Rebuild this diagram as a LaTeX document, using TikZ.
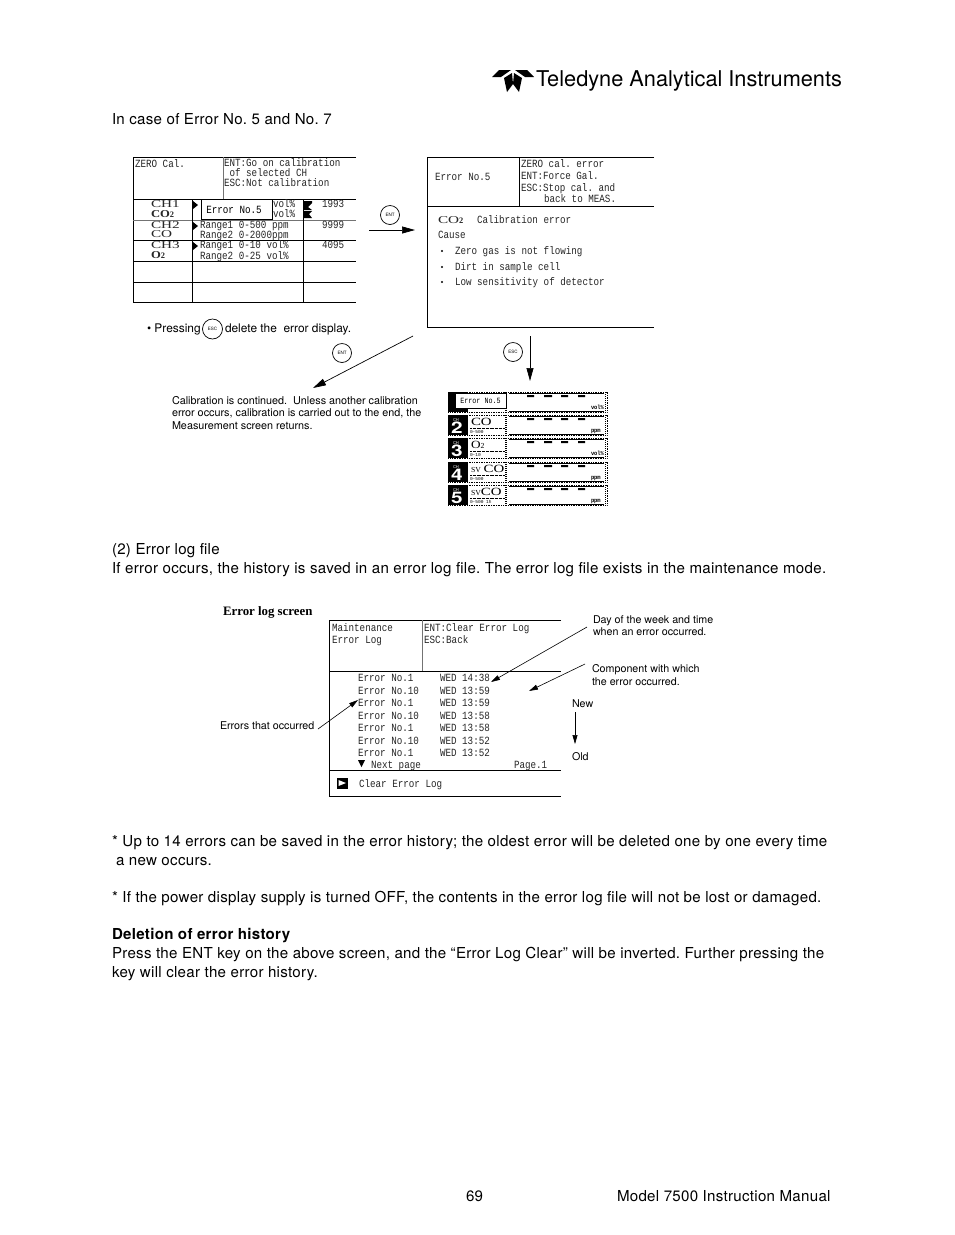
\documentclass[tikz,border=0pt]{standalone}
\usepackage{fontspec}
\usepackage{graphicx}
\setmainfont{TeX Gyre Heros}
\newfontfamily\bodyfont[LetterSpace=1.9]{TeX Gyre Heros}
\newfontfamily\scrfont{Liberation Mono}
\newfontfamily\wideserif{Liberation Serif}
\usetikzlibrary{arrows.meta}
\AtBeginDocument{\frenchspacing}
\newcounter{tn}
\newcommand{\Tx}[4][bodytxt]{\stepcounter{tn}\node[#1] (t\arabic{tn}) at (#2,#3) {#4};}
\newcommand{\Sc}[1]{\scalebox{.84}[1]{#1}}
\newcommand{\Wd}[1]{\scalebox{1.45}[1]{#1}}
\tikzset{
 base/.style={inner sep=0pt,outer sep=0pt,anchor=base west,text=black},
 bodytxt/.style={base,font=\bodyfont\fontsize{15.1}{16}\selectfont},
 headtxt/.style={base,font=\fontsize{21.75}{22}\selectfont},
 smalltxt/.style={base,font=\fontsize{10.8}{11}\selectfont},
 notetxt/.style={base,font=\fontsize{10.7}{11}\selectfont},
 presstxt/.style={base,font=\fontsize{11.9}{12}\selectfont},
 serifb/.style={base,font=\wideserif\bfseries\fontsize{12.85}{13}\selectfont},
 scr/.style={base,font=\scrfont\fontsize{11}{11}\selectfont,text=black!85},
 tiny/.style={base,font=\scrfont\bfseries\fontsize{6}{6}\selectfont,text=black},
 big/.style={base,font=\wideserif\fontsize{10.5}{11}\selectfont,text=black!85},
 frame/.style={draw=black,line width=.7pt},
 fineframe/.style={draw=black!55,line width=.7pt},
 keycap/.style={draw=black,circle,line width=.7pt,minimum size=19pt,inner sep=0pt,font=\fontsize{4.5}{5}\selectfont},
 conn/.style={draw=black,line width=.7pt,-{Triangle[length=13pt,width=7pt]}},
 thin conn/.style={draw=black,line width=.6pt,-{Triangle[length=9pt,width=5pt]}}
}
\begin{document}
\begin{tikzpicture}[x=1pt,y=-1pt]
\useasboundingbox (0,0) rectangle (954,1235);
\fill[white] (0,0) rectangle (954,1235);
% logo
\fill[black] (492,77) -- (499,70) -- (511,70) -- (501,77) -- cycle;
\fill[black] (534,77) -- (527,70) -- (515,70) -- (525,77) -- cycle;
\fill[black] (504,78) -- (512,73) -- (513,84) -- (507,92) -- cycle;
\fill[black] (522,78) -- (514,73) -- (513,84) -- (519,92) -- cycle;
\Tx[headtxt]{536}{86.5}{Teledyne Analytical Instruments}
\Tx{112}{124}{In case of Error No. 5 and No. 7}
% left screen
\draw[frame] (356,157) -- (133,157) -- (133,302) -- (356,302);
\draw[frame] (133,199) -- (356,199);
\draw[fineframe] (223,157) -- (223,199);
\draw[fineframe] (133,220) -- (356,220);
\draw[frame] (133,240) -- (356,240) (133,261) -- (356,261) (133,282) -- (356,282);
\draw[frame] (192,199) -- (192,302) (303,199) -- (303,302);
\Tx[scr]{135}{167}{\Sc{ZERO Cal.}}
\Tx[scr]{224}{166}{\Sc{ENT:Go on calibration}}
\Tx[scr]{224}{176}{\Sc{ of selected CH}}
\Tx[scr]{224}{186}{\Sc{ESC:Not calibration}}
\Tx[big]{151}{207}{\Wd{CH1}}
\Tx[big]{151}{217}{\scalebox{1.2}[1]{\textbf{CO}}\scalebox{.8}{\textbf{2}}}
\Tx[big]{151}{228}{\Wd{CH2}}
\Tx[big]{151}{237}{\Wd{CO}}
\Tx[big]{151}{248}{\Wd{CH3}}
\Tx[big]{151}{258}{\scalebox{1.2}[1]{\textbf{O}}\scalebox{.8}{\textbf{2}}}
\Tx[scr]{273}{207}{\Sc{vol\%}}
\Tx[scr]{273}{217}{\Sc{vol\%}}
\fill (193,201) -- (198,205) -- (193,209) -- cycle;
\fill (304,201) -- (312,201) -- (312,203) -- (308,207) -- (312,210) -- (304,210) -- cycle;
\fill (304,211) -- (312,211) -- (309,214) -- (312,218) -- (304,218) -- cycle;
\fill (193,222) -- (198,226) -- (193,230) -- cycle;
\fill (193,242) -- (198,246) -- (193,250) -- cycle;
\Tx[scr]{200}{228}{\Sc{Range1 0-500  ppm}}
\Tx[scr]{200}{238}{\Sc{Range2 0-2000ppm}}
\Tx[scr]{200}{248}{\Sc{Range1 0-10   vol\%}}
\Tx[scr]{200}{259}{\Sc{Range2 0-25   vol\%}}
\Tx[scr]{322}{207}{\Sc{1993}}
\Tx[scr]{322}{228}{\Sc{9999}}
\Tx[scr]{322}{248}{\Sc{4095}}
\node[draw=black,fill=white,line width=.7pt,minimum width=71pt,minimum height=20pt,inner sep=0pt,font=\scrfont\fontsize{11}{11}\selectfont] (errpop) at (236.5,209.5) {\hspace*{-5pt}\Sc{Error No.5}};
\Tx[presstxt]{147}{332}{• Pressing}
\node[keycap,minimum size=20pt] (escA) at (212.5,329) {ESC};
\Tx[presstxt]{225}{332}{delete the\ \ error display.}
% right screen
\draw[frame] (654,157) -- (427,157) -- (427,327) -- (654,327);
\draw[frame] (427,206.5) -- (654,206.5) (519,157) -- (519,206.5);
\Tx[scr]{435}{180}{\Sc{Error No.5}}
\Tx[scr]{521}{167}{\Sc{ZERO cal. error}}
\Tx[scr]{521}{179}{\Sc{ENT:Force Gal.}}
\Tx[scr]{521}{191}{\Sc{ESC:Stop cal. and}}
\Tx[scr]{544}{202}{\Sc{back to MEAS.}}
\Tx[big]{438}{223}{\Wd{CO}\scalebox{.8}{\textbf{2}}}
\Tx[scr]{477}{223}{\Sc{Calibration error}}
\Tx[scr]{438}{238}{\Sc{Cause}}
\foreach \yy/\ss in {254/Zero gas is not flowing,270/Dirt in sample cell,285/Low sensitivity of detector}{
 \fill (442,\yy-3) circle (1.2pt);
 \Tx[scr]{455}{\yy}{\Sc{\ss}}
}
% keys and arrows
\node[keycap] (entA) at (390,215) {ENT};
\coordinate (a1s) at (369,230); \coordinate (a1e) at (415,230);
\draw[conn] (a1s) -- (a1e);
\node[keycap] (entB) at (342,353) {ENT};
\coordinate (a2s) at (413,336); \coordinate (a2e) at (313,388);
\draw[conn] (a2s) -- (a2e);
\node[keycap] (escB) at (513,352) {ESC};
\coordinate (a3s) at (530,336); \coordinate (a3e) at (530,381);
\draw[conn] (a3s) -- (a3e);
\Tx[smalltxt]{172}{404}{Calibration is continued.\ \ Unless another calibration}
\Tx[smalltxt]{172}{416}{error occurs, calibration is carried out to the end, the}
\Tx[smalltxt]{172}{429}{Measurement screen returns.}
% measurement panel
\foreach \rt/\un in {392/vol\%,415/ppm,438/vol\%,462/ppm,485/ppm}{
 \draw[black,line width=.7pt,densely dotted] (448,\rt) rectangle (607,\rt+20);
 \fill[black] (448,\rt) rectangle (468,\rt+20);
 \draw[black,line width=1.3pt,dash pattern=on 1pt off 1pt] (506,\rt) -- (506,\rt+20) (605.5,\rt) -- (605.5,\rt+20);
 \draw[black,line width=.6pt] (509,\rt+1) -- (604,\rt+1) (509,\rt+19) -- (604,\rt+19);
 \fill (527,\rt+3) rectangle (534,\rt+5) (544,\rt+3) rectangle (552,\rt+5) (561,\rt+3) rectangle (568,\rt+5) (578,\rt+3) rectangle (585,\rt+5);
 \Tx[tiny]{591}{\rt+17}{\scalebox{.9}[1]{\un}}
}
\foreach \rt/\dg in {415/2,438/3,462/4,485/5}{
 \Tx[base,font=\bfseries\fontsize{16}{16}\selectfont,text=white]{451}{\rt+18}{\scalebox{1.3}[1]{\dg}}
 \Tx[base,font=\fontsize{4}{4}\selectfont,text=white]{453}{\rt+6}{CH}
}
\node[draw=black,fill=white,line width=1pt,minimum width=51pt,minimum height=15pt,inner sep=0pt,font=\scrfont\fontsize{8}{8}\selectfont] (errpan) at (480.5,401) {\Sc{Error No.5}};
\foreach \rt/\lb/\rg in {415/\scalebox{1.35}[1]{CO}/0-500,438/\scalebox{1.2}[1]{O}\scalebox{.7}{2}/0-10,462/{\scalebox{.7}{SV} \scalebox{1.35}[1]{CO}}/0-500,485/{\scalebox{.7}{SV}\scalebox{1.35}[1]{CO}}/0-500 1h}{
 \Tx[base,font=\wideserif\fontsize{11}{11}\selectfont]{471}{\rt+10}{\lb}
 \draw[black,line width=.3pt,densely dotted] (470,\rt+13) -- (504,\rt+13);
 \Tx[tiny,font=\scrfont\fontsize{4.5}{5}\selectfont]{470}{\rt+18}{\rg}
}
\Tx{112}{554}{(2) Error log file}
\Tx{112}{573}{If error occurs, the history is saved in an error log file. The error log file exists in the maintenance mode.}
% log screen
\Tx[serifb]{223}{615}{Error log screen}
\draw[frame] (561,620) -- (329,620) -- (329,796) -- (561,796);
\draw[fineframe] (422,620) -- (422,671);
\draw[frame] (329,671) -- (561,671) (329,770) -- (561,770);
\Tx[scr]{332}{631}{\Sc{Maintenance}}
\Tx[scr]{332}{643}{\Sc{Error Log}}
\Tx[scr]{424}{631}{\Sc{ENT:Clear Error Log}}
\Tx[scr]{424}{643}{\Sc{ESC:Back}}
\foreach \yy/\ee/\tt in {681/1/14:38,694/10/13:59,706/1/13:59,719/10/13:58,731/1/13:58,744/10/13:52,756/1/13:52}{
 \Tx[scr]{358}{\yy}{\Sc{Error No.\ee}}
 \Tx[scr]{440}{\yy}{\Sc{WED \tt}}
}
\fill (358,760) -- (365,760) -- (361.5,767) -- cycle;
\Tx[scr]{371}{768}{\Sc{Next page}}
\Tx[scr]{514}{768}{\Sc{Page.1}}
\Tx[scr]{359}{787}{\Sc{Clear Error Log}}
\fill (337,778) rectangle (348,789);
\fill[white] (338.5,780) -- (346,783) -- (338.5,786) -- cycle;
\coordinate (b1s) at (587,627); \coordinate (b1e) at (491,682);
\draw[thin conn] (b1s) -- (b1e);
\coordinate (b2s) at (585,664); \coordinate (b2e) at (529,691);
\draw[thin conn] (b2s) -- (b2e);
\coordinate (b3s) at (575,712); \coordinate (b3e) at (575,744);
\draw[thin conn] (b3s) -- (b3e);
\coordinate (b4s) at (318,729); \coordinate (b4e) at (358,700);
\draw[thin conn] (b4s) -- (b4e);
\Tx[notetxt]{220}{729}{Errors that occurred}
\Tx[notetxt]{593}{623}{Day of the week and time}
\Tx[notetxt]{593}{635}{when an error occurred.}
\Tx[notetxt]{592}{672}{Component with which}
\Tx[notetxt]{592}{685}{the error occurred.}
\Tx[notetxt]{572}{707}{New}
\Tx[notetxt]{572}{760}{Old}
% lower text
\Tx{112}{846}{* Up to 14 errors can be saved in the error history; the oldest error will be deleted one by one every time}
\Tx{116}{865}{a new occurs.}
\Tx{112}{902}{* If the power display supply is turned OFF, the contents in the error log file will not be lost or damaged.}
\Tx[bodytxt,font=\bodyfont\bfseries\fontsize{15.1}{16}\selectfont]{112}{939}{Deletion of error history}
\Tx{112}{958}{Press the ENT key on the above screen, and the “Error Log Clear” will be inverted. Further pressing the}
\Tx{112}{977}{key will clear the error history.}
\Tx{466}{1201.5}{69}
\Tx{617}{1201.5}{Model 7500 Instruction Manual}
\end{tikzpicture}
\end{document}
